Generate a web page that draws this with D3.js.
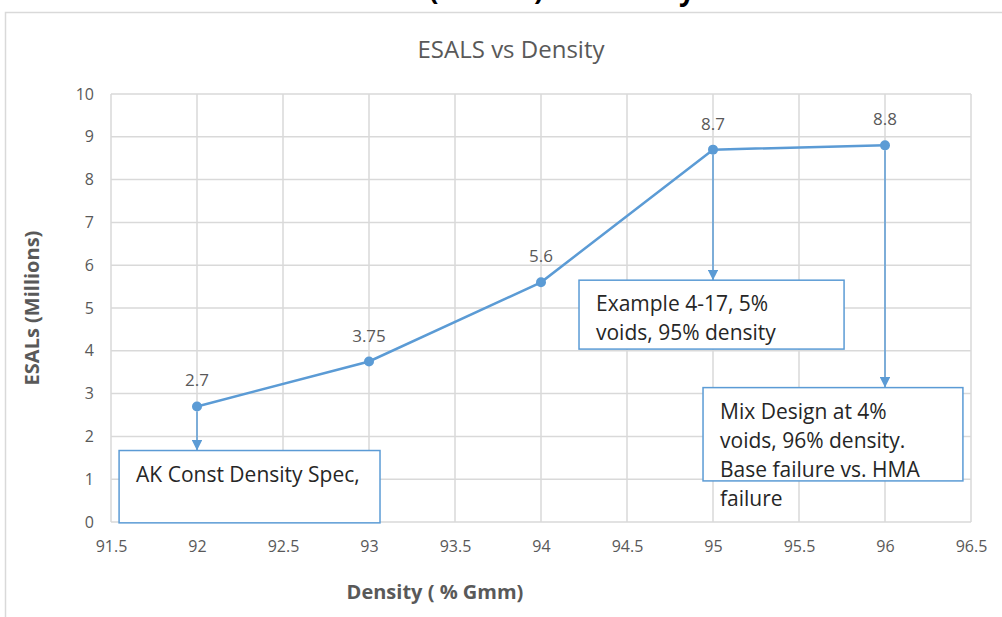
<!DOCTYPE html>
<html>
<head>
<meta charset="utf-8">
<script src="https://cdn.jsdelivr.net/npm/d3@7"></script>
<style>
  body { margin: 0; background: #fff; }
  svg { display: block; font-family: "Open Sans", "Liberation Sans", sans-serif; }
</style>
</head>
<body>
<script>
(function (d3) {
  'use strict';

  // data
  const density = [92, 93, 94, 95, 96];
  const esals = [2.7, 3.75, 5.6, 8.7, 8.8];
  const pointLabels = ["2.7", "3.75", "5.6", "8.7", "8.8"];
  const xTicks = [91.5, 92, 92.5, 93, 93.5, 94, 94.5, 95, 95.5, 96, 96.5];
  const yTicks = [0, 1, 2, 3, 4, 5, 6, 7, 8, 9, 10];

  // callouts: which point they hang from, box corners in data units, text lines
  const calloutPoint = [0, 3, 4];
  const calloutX0 = [91.547, 94.221, 94.942];
  const calloutX1 = [93.064, 95.762, 96.453];
  const calloutY0 = [1.67, 5.65, 3.14];
  const calloutY1 = [-0.02, 4.04, 0.96];
  const calloutText = [
    ["AK Const Density Spec,"],
    ["Example 4-17, 5%", "voids, 95% density"],
    ["Mix Design at 4%", "voids, 96% density.", "Base failure vs. HMA", "failure"]
  ];

  const W = 1002, H = 617;
  const margin = {top: 94, right: 31, bottom: 95, left: 111};
  const w = W - margin.left - margin.right,
        h = H - margin.top - margin.bottom;

  const blue = "#5b9bd5", grid = "#d9d9d9", tickCol = "#595959";

  const svg = d3.select("body").append("svg")
      .attr("width", W).attr("height", H);

  // clipped heading of the page above
  svg.append("text")
      .attr("y", 0)
      .attr("font-size", 28).attr("font-weight", "bold").attr("fill", "#000")
      .selectAll("tspan")
      .data([["(", 429], [")", 534], ["y", 679]])
      .join("tspan")
      .attr("x", d => d[1])
      .text(d => d[0]);

  // chart frame
  svg.append("rect")
      .attr("x", 5.5).attr("y", 12.5).attr("width", W + 10).attr("height", H + 10)
      .attr("fill", "#fff").attr("stroke", "#d9d9d9").attr("stroke-width", 1.5);

  svg.append("text")
      .attr("x", 511).attr("y", 58)
      .attr("text-anchor", "middle").attr("font-size", 24).attr("fill", tickCol)
      .text("ESALS vs Density");

  const g = svg.append("g")
      .attr("transform", `translate(${margin.left},${margin.top})`);

  const x = d3.scaleLinear().domain([91.5, 96.5]).range([0, w]);
  const y = d3.scaleLinear().domain([0, 10]).range([h, 0]);

  // gridlines
  g.append("g")
      .selectAll("line")
      .data(xTicks)
      .join("line")
      .attr("x1", d => x(d)).attr("x2", d => x(d))
      .attr("y1", 0).attr("y2", h)
      .attr("stroke", grid).attr("stroke-width", 1.5);
  g.append("g")
      .selectAll("line")
      .data(yTicks)
      .join("line")
      .attr("x1", 0).attr("x2", w)
      .attr("y1", d => y(d)).attr("y2", d => y(d))
      .attr("stroke", grid).attr("stroke-width", 1.5);

  // axes (labels only, Excel style)
  const xAxis = g.append("g")
      .attr("transform", `translate(0,${h})`)
      .call(d3.axisBottom(x).tickValues(xTicks).tickSize(0).tickPadding(19).tickFormat(d3.format("")));
  const yAxis = g.append("g")
      .call(d3.axisLeft(y).tickValues(yTicks).tickSize(0).tickPadding(17));
  [xAxis, yAxis].forEach(a => {
    a.select(".domain").remove();
    a.selectAll("text").attr("fill", tickCol).attr("font-size", 16)
      .attr("font-family", "'Open Sans', sans-serif");
  });

  svg.append("text")
      .attr("transform", "translate(39,308) rotate(-90)")
      .attr("text-anchor", "middle").attr("font-size", 20).attr("font-weight", "bold")
      .attr("fill", tickCol)
      .text("ESALs (Millions)");
  svg.append("text")
      .attr("x", 435).attr("y", 599)
      .attr("text-anchor", "middle").attr("font-size", 20).attr("font-weight", "bold")
      .attr("fill", tickCol)
      .text("Density ( % Gmm)");

  const pts = density.map((d, i) => ({x: d, y: esals[i], label: pointLabels[i]}));

  // callout arrows and boxes
  svg.append("defs").append("marker")
      .attr("id", "arr")
      .attr("viewBox", "0 0 10 10")
      .attr("refX", 10).attr("refY", 5)
      .attr("markerWidth", 7).attr("markerHeight", 7)
      .attr("markerUnits", "strokeWidth")
      .attr("orient", "auto")
    .append("path")
      .attr("d", "M0,0 L10,5 L0,10 z")
      .attr("fill", blue);

  calloutPoint.forEach((pi, i) => {
    const p = pts[pi];
    g.append("line")
        .attr("x1", x(p.x)).attr("x2", x(p.x))
        .attr("y1", y(p.y) + 5).attr("y2", y(calloutY0[i]))
        .attr("stroke", blue).attr("stroke-width", 1.5)
        .attr("marker-end", "url(#arr)");
    g.append("rect")
        .attr("x", x(calloutX0[i])).attr("y", y(calloutY0[i]))
        .attr("width", x(calloutX1[i]) - x(calloutX0[i]))
        .attr("height", y(calloutY1[i]) - y(calloutY0[i]))
        .attr("fill", "#fff").attr("stroke", blue).attr("stroke-width", 1.5);
    g.append("text")
        .attr("font-size", 21).attr("fill", "#262626")
        .selectAll("tspan")
        .data(calloutText[i])
        .join("tspan")
        .attr("x", x(calloutX0[i]) + 17)
        .attr("y", (d, j) => y(calloutY0[i]) + 31 + j * 29)
        .text(d => d);
  });

  // series line and markers
  const line = d3.line().x(d => x(d.x)).y(d => y(d.y));
  g.append("path")
      .datum(pts)
      .attr("d", line)
      .attr("fill", "none").attr("stroke", blue).attr("stroke-width", 2.5);
  g.selectAll("circle")
      .data(pts)
      .join("circle")
      .attr("cx", d => x(d.x)).attr("cy", d => y(d.y))
      .attr("r", 5).attr("fill", blue);
  g.selectAll("text.lbl")
      .data(pts)
      .join("text")
      .attr("class", "lbl")
      .attr("x", d => x(d.x)).attr("y", d => y(d.y) - 20)
      .attr("text-anchor", "middle").attr("font-size", 17).attr("fill", tickCol)
      .text(d => d.label);
}(d3));
</script>
</body>
</html>
